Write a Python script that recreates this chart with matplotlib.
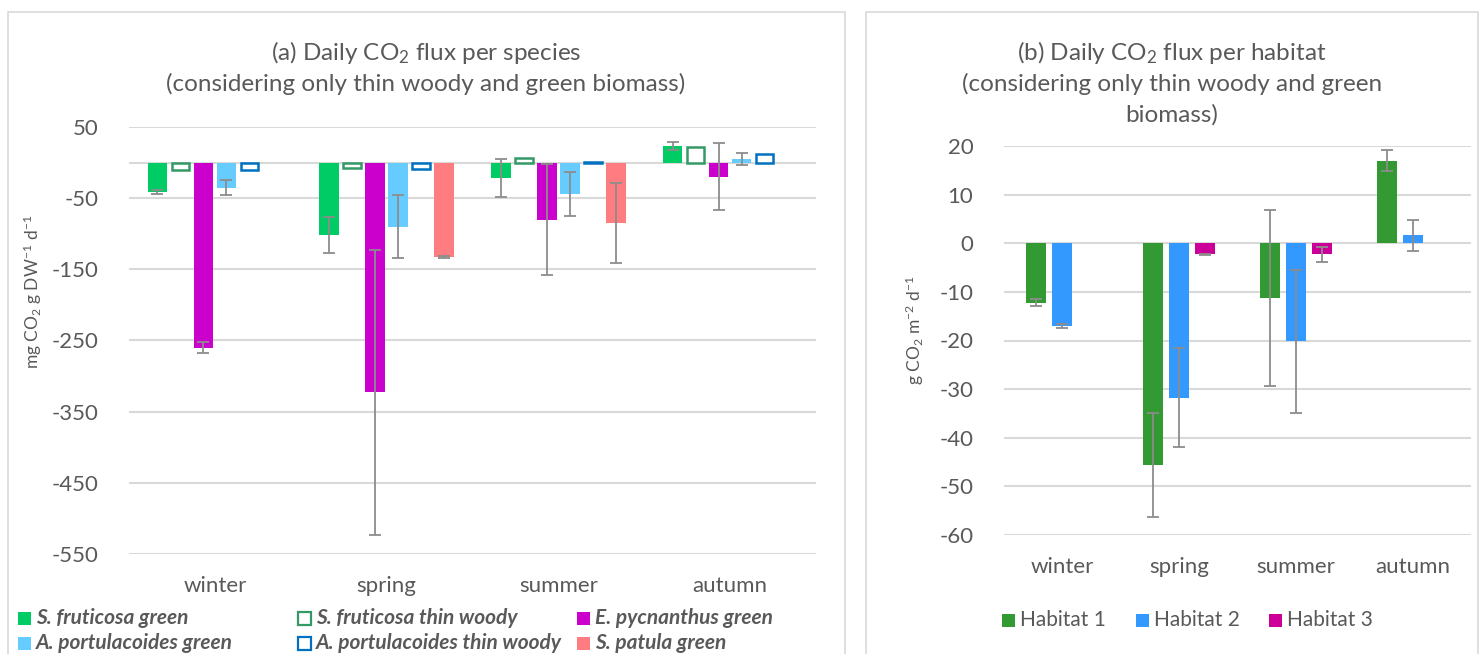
import numpy as np
import matplotlib.pyplot as plt
from matplotlib.patches import Rectangle

plt.rcParams["font.family"] = ["Lato", "DejaVu Sans"]
plt.rcParams["mathtext.fontset"] = "custom"
plt.rcParams["mathtext.rm"] = "Lato"
plt.rcParams["mathtext.it"] = "Lato:italic"
plt.rcParams["axes.unicode_minus"] = False

# -----------------------------
# data
# -----------------------------
seasons = ["winter", "spring", "summer", "autumn"]

# (a) mg CO2 g DW-1 d-1 per species (nan = not measured)
species = ["S. fruticosa green", "S. fruticosa thin woody", "E. pycnanthus green",
           "A. portulacoides green", "A. portulacoides thin woody", "S. patula green"]
sfru_green = [-41, -102, -21.5, 23.3]
sfru_green_err = [3, 25, 27, 6.3]
sfru_woody = [-10, -8, 7, 22]
epyc_green = [-260, -323, -80, -20]
epyc_green_err = [7.5, 200, 78, 47]
apor_green = [-35.5, -90, -44, 4.6]
apor_green_err = [10.5, 44, 31, 8.4]
apor_woody = [-11, -9, 1.5, 11.5]
spat_green = [np.nan, -132.5, -84.8, np.nan]
spat_green_err = [np.nan, 1, 56, np.nan]

# (b) g CO2 m-2 d-1 per habitat
habitats = ["Habitat 1", "Habitat 2", "Habitat 3"]
hab1 = [-12.2, -45.7, -11.3, 17.0]
hab1_err = [0.7, 10.7, 18.1, 2.2]
hab2 = [-17.1, -31.8, -20.2, 1.6]
hab2_err = [0.4, 10.2, 14.7, 3.1]
hab3 = [np.nan, -2.3, -2.3, np.nan]
hab3_err = [np.nan, 0.1, 1.6, np.nan]

# -----------------------------
# styles
# -----------------------------
TXT = "#595959"
GRID = "#D9D9D9"
ERR = "#8C8C8C"
W, H = 1481, 654

colors_a = ["#00CC66", "#339966", "#CC00CC", "#66CCFF", "#0070C0", "#FF7C80"]
filled_a = [True, False, True, True, False, True]
values_a = [sfru_green, sfru_woody, epyc_green, apor_green, apor_woody, spat_green]
errors_a = [sfru_green_err, None, epyc_green_err, apor_green_err, None, spat_green_err]

colors_b = ["#339933", "#3399FF", "#CC0099"]
values_b = [hab1, hab2, hab3]
errors_b = [hab1_err, hab2_err, hab3_err]

fig = plt.figure(figsize=(W / 100, H / 100), dpi=100)

# panel frames
fig.patches.append(Rectangle((8 / W, -0.1), 837 / W, 1.1 - 12 / H, transform=fig.transFigure,
                             facecolor="none", edgecolor=GRID, lw=1.2))
fig.patches.append(Rectangle((866 / W, -0.1), 612 / W, 1.1 - 12 / H, transform=fig.transFigure,
                             facecolor="none", edgecolor=GRID, lw=1.2))


def px_axes(x0, y0, x1, y1):
    return fig.add_axes([x0 / W, 1 - y1 / H, (x1 - x0) / W, (y1 - y0) / H])


def style_axes(ax):
    for s in ax.spines.values():
        s.set_visible(False)
    ax.yaxis.grid(True, color=GRID, lw=1.5)
    ax.set_axisbelow(True)
    ax.tick_params(length=0, labelsize=16, colors=TXT)
    ax.tick_params(axis="y", pad=22)
    ax.tick_params(axis="x", pad=16)
    ax.set_xticks(np.arange(len(seasons)))
    ax.set_xticklabels(seasons)
    ax.set_xlim(-0.5, len(seasons) - 0.5)


x = np.arange(len(seasons))

# ---- (a) per species ----
ax1 = px_axes(129, 127, 816, 554)
style_axes(ax1)
ax1.axhline(0, color=GRID, lw=1.5, zorder=1)
slot_a, width_a = 0.134, 0.113
for i in range(len(species)):
    pos = x + (i - 2.5) * slot_a
    if filled_a[i]:
        ax1.bar(pos, values_a[i], width_a, color=colors_a[i], zorder=3)
    else:
        # outline sits on the bar edge, so shrink the box by the line width
        ax1.bar(pos, values_a[i], width_a - 0.011, facecolor="white", edgecolor=colors_a[i],
                lw=1.8, zorder=3)
    if errors_a[i] is not None:
        ax1.errorbar(pos, values_a[i], yerr=errors_a[i], fmt="none", ecolor=ERR,
                     elinewidth=1.3, capsize=4, capthick=1.3, zorder=4)
ax1.set_ylim(-550, 50)
ax1.set_yticks(np.arange(50, -551, -100))
ax1.set_yticklabels([str(v) for v in np.arange(50, -551, -100)])
ax1.set_ylabel("mg CO$_2$ g DW$^{-1}$ d$^{-1}$", fontsize=12.5, color=TXT)
ax1.yaxis.set_label_coords(-0.124, 0.615)

# ---- (b) per habitat ----
ax2 = px_axes(1004, 146, 1471, 535)
style_axes(ax2)
slot_b, width_b = 0.2227, 0.171
for i in range(len(habitats)):
    pos = x + (i - 1) * slot_b
    ax2.bar(pos, values_b[i], width_b, color=colors_b[i], zorder=3)
    ax2.errorbar(pos, values_b[i], yerr=errors_b[i], fmt="none", ecolor=ERR,
                 elinewidth=1.3, capsize=4, capthick=1.3, zorder=4)
ax2.set_ylim(-60, 20)
ax2.set_yticks(np.arange(20, -61, -10))
ax2.set_yticklabels([str(v) for v in np.arange(20, -61, -10)])
ax2.set_ylabel("g CO$_2$ m$^{-2}$ d$^{-1}$", fontsize=12.5, color=TXT)
ax2.yaxis.set_label_coords(-0.167, 0.527)

# titles
TS = 17.5
fig.text(426 / W, 1 - 53 / H, "(a) Daily CO$_2$ flux per species", ha="center", va="center",
         fontsize=TS, color=TXT)
fig.text(426 / W, 1 - 84 / H, "(considering only thin woody and green biomass)", ha="center",
         va="center", fontsize=TS, color=TXT)
fig.text(1172 / W, 1 - 53 / H, "(b) Daily CO$_2$ flux per habitat", ha="center", va="center",
         fontsize=TS, color=TXT)
fig.text(1172 / W, 1 - 84 / H, "(considering only thin woody and green", ha="center",
         va="center", fontsize=TS, color=TXT)
fig.text(1172 / W, 1 - 115 / H, "biomass)", ha="center", va="center", fontsize=TS, color=TXT)


# legends: fixed grid like the spreadsheet layout
def legend_entry(x_px, y_px, label, color, filled, **font):
    fig.patches.append(Rectangle((x_px / W, 1 - (y_px + 6.5) / H), 13 / W, 13 / H,
                                 transform=fig.transFigure,
                                 facecolor=color if filled else "white",
                                 edgecolor=color, lw=0 if filled else 1.6))
    fig.text((x_px + 18) / W, 1 - y_px / H, label, va="center", color=TXT, **font)


cols_a = [18, 298, 577]
rows_a = [618, 643]
for i in range(len(species)):
    legend_entry(cols_a[i % 3], rows_a[i // 3], species[i], colors_a[i], filled_a[i],
                 fontsize=15, fontweight="bold", fontstyle="italic")

cols_b = [1002, 1136, 1269]
for i in range(len(habitats)):
    legend_entry(cols_b[i], 620, habitats[i], colors_b[i], True, fontsize=15)

fig.savefig("out.png", dpi=100)
